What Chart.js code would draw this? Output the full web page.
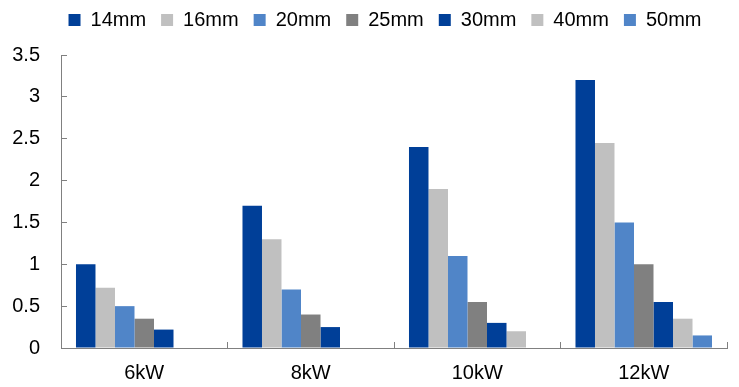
<!DOCTYPE html>
<html>
<head>
<meta charset="utf-8">
<script src="https://cdn.jsdelivr.net/npm/chart.js@4/dist/chart.umd.min.js"></script>
<style>
  html, body { margin: 0; padding: 0; background: #fff; }
  #wrap { width: 739px; height: 387px; position: relative; }
</style>
</head>
<body>
<div id="wrap"><canvas id="c" width="739" height="387"></canvas></div>
<script>
// Power ratings on the x axis
const categories = ['6kW', '8kW', '10kW', '12kW'];

// One series per pipe diameter
const seriesNames = ['14mm', '16mm', '20mm', '25mm', '30mm', '40mm', '50mm'];
const s14mm = [1.0, 1.7, 2.4, 3.2];
const s16mm = [0.72, 1.3, 1.9, 2.45];
const s20mm = [0.5, 0.7, 1.1, 1.5];
const s25mm = [0.35, 0.4, 0.55, 1.0];
const s30mm = [0.22, 0.25, 0.3, 0.55];
const s40mm = [null, null, 0.2, 0.35];
const s50mm = [null, null, null, 0.15];

const yTicks = [0, 0.5, 1, 1.5, 2, 2.5, 3, 3.5];
const yTickLabels = ['0', '0.5', '1', '1.5', '2', '2.5', '3', '3.5'];

const seriesValues = [s14mm, s16mm, s20mm, s25mm, s30mm, s40mm, s50mm];
const palette = ['#003F98', '#C0C0C0', '#5085C8', '#808080', '#003F98', '#C0C0C0', '#5085C8'];

const FONT = "'Liberation Sans', Arial, sans-serif";
const AXIS = '#808080';

// Fixed legend band height, and the legend row nudged right/up within it
const legendBand = {
  id: 'legendBand',
  beforeInit(chart) {
    const fit = chart.legend.fit;
    chart.legend.fit = function () {
      fit.call(this);
      this.height = 55;
    };
  },
  afterLayout(chart) {
    const lg = chart.legend;
    lg.left = 43;
    lg.top = -5;
  }
};

new Chart(document.getElementById('c'), {
  type: 'bar',
  data: {
    labels: categories,
    datasets: seriesNames.map((name, i) => ({
      label: name,
      data: seriesValues[i],
      backgroundColor: palette[i],
      borderWidth: 0,
      categoryPercentage: 0.82,
      barPercentage: 1.0
    }))
  },
  options: {
    responsive: false,
    animation: false,
    devicePixelRatio: 1,
    layout: { padding: { left: 0, right: 12, top: 0, bottom: 0 } },
    plugins: {
      legend: {
        position: 'top',
        labels: {
          boxWidth: 12,
          boxHeight: 12,
          padding: 15,
          color: '#000',
          font: { family: FONT, size: 20 }
        }
      },
      tooltip: { enabled: false }
    },
    scales: {
      x: {
        grid: { drawOnChartArea: false, offset: true, color: AXIS, tickLength: -6 },
        border: { color: AXIS, width: 1 },
        ticks: { color: '#000', padding: 19, font: { family: FONT, size: 20 } },
        afterFit(scale) { scale.height = 39; }
      },
      y: {
        min: 0,
        max: 3.5,
        afterBuildTicks(scale) { scale.ticks = yTicks.map(v => ({ value: v })); },
        grid: { drawOnChartArea: false, color: AXIS, tickLength: -6 },
        border: { color: AXIS, width: 1 },
        ticks: {
          color: '#000',
          padding: 27,
          font: { family: FONT, size: 20 },
          callback: (v, i) => yTickLabels[i]
        },
        afterFit(scale) { scale.width = 61; }
      }
    }
  },
  plugins: [legendBand]
});
</script>
</body>
</html>
